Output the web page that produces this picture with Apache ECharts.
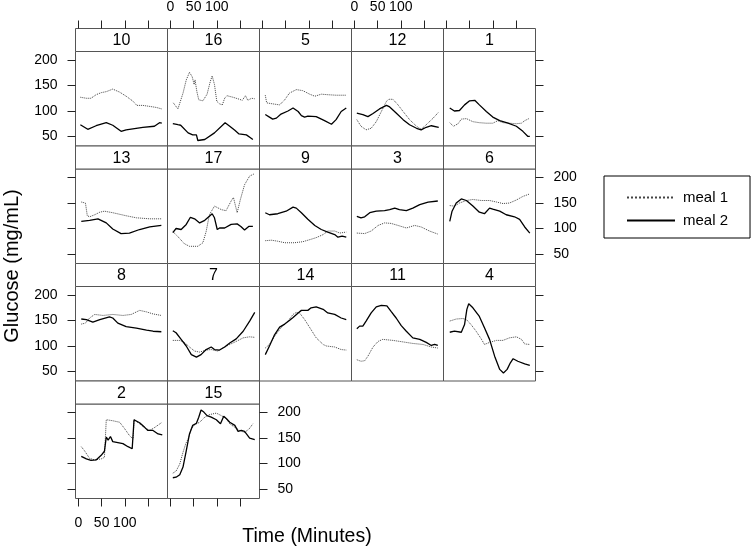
<!DOCTYPE html>
<html>
<head>
<meta charset="utf-8">
<script src="https://cdn.jsdelivr.net/npm/echarts@6/dist/echarts.min.js"></script>
<style>
  html, body { margin: 0; padding: 0; background: #fff; }
  #chart { width: 751px; height: 550px; }
</style>
</head>
<body>
<div id="chart"></div>
<script>
/* ---------------- DATA ---------------- */

// panel order, left-to-right, top-to-bottom
const PANEL_IDS = ["10", "16", "5", "12", "1", "13", "17", "9", "3", "6", "8", "7", "14", "11", "4", "2", "15"];

const TIME_TICKS = [0, 50, 100, 150];
const TIME_LABELS = [0, 50, 100];
const GLUCOSE_TICKS = [50, 100, 150, 200];

// [minutes, glucose]
const m1_10 = [[4,127],[17,125],[27,125],[38,132],[49,136],[60,138],[74,143],[89,137],[103,129],[118,119],[126,111],[139,111],[154,109],[168,107],[180,104]];
const m2_10 = [[4,73],[20,64],[38,71],[60,77],[74,72],[92,60],[103,63],[139,68],[164,70],[175,77],[180,76]];

const m1_16 = [[6,116],[16,104],[27,135],[34,161],[41,176],[47,167],[51,152],[53,161],[57,138],[61,122],[70,120],[79,133],[86,158],[90,169],[95,152],[100,119],[106,114],[112,112],[117,125],[122,130],[135,127],[149,123],[155,121],[162,130],[167,121],[175,125],[182,124]];
const m2_16 = [[5,75],[16,73],[22,72],[38,57],[48,53],[56,53],[59,42],[74,44],[95,57],[118,77],[128,70],[139,62],[148,55],[156,54],[164,53],[172,48],[178,44]];

const m1_5 = [[6,131],[9,116],[22,114],[37,112],[48,122],[58,135],[73,142],[87,140],[102,133],[113,129],[127,133],[141,132],[159,131],[181,131]];
const m2_5 = [[6,93],[15,88],[22,84],[30,86],[40,94],[55,100],[66,106],[77,99],[84,91],[91,88],[98,90],[116,89],[134,81],[149,74],[159,83],[170,99],[181,106]];

const m1_12 = [[5,83],[14,70],[25,63],[36,66],[47,79],[58,99],[69,119],[74,123],[83,123],[94,112],[105,99],[119,83],[134,70],[144,64],[155,73],[170,86],[182,98]];
const m2_12 = [[5,96],[18,93],[29,89],[40,95],[54,104],[69,111],[76,108],[90,96],[105,83],[119,73],[134,66],[144,63],[155,68],[166,71],[182,68]];

const m1_1 = [[7,77],[15,70],[25,75],[32,84],[43,85],[57,79],[71,77],[86,76],[100,76],[111,81],[122,77],[136,76],[151,75],[162,76],[169,81],[178,85]];
const m2_1 = [[7,106],[17,100],[28,101],[39,112],[50,120],[61,121],[71,112],[86,99],[100,88],[115,81],[133,76],[151,70],[165,60],[176,50],[180,50]];

const m1_13 = [[6,152],[15,150],[19,125],[24,123],[35,127],[46,132],[56,134],[74,131],[103,125],[125,121],[154,119],[179,119]];
const m2_13 = [[6,114],[24,116],[42,119],[60,111],[74,99],[92,90],[110,91],[132,98],[154,103],[179,106]];

const m1_17 = [[5,94],[15,85],[30,70],[41,65],[59,65],[70,72],[77,94],[84,127],[95,144],[110,137],[120,135],[131,154],[136,161],[144,131],[151,157],[160,186],[171,203],[180,207]];
const m2_17 = [[5,92],[12,100],[23,98],[34,108],[43,122],[52,119],[63,111],[74,116],[84,124],[90,129],[95,121],[101,98],[106,101],[117,101],[131,108],[144,109],[152,104],[160,97],[169,104],[178,104]];

const m1_9 = [[6,76],[19,77],[33,75],[48,72],[69,72],[87,74],[102,78],[116,82],[131,88],[141,95],[156,95],[167,91],[181,93]];
const m2_9 = [[6,131],[15,127],[33,129],[51,134],[66,142],[73,140],[84,131],[98,118],[113,106],[127,98],[141,93],[156,88],[163,83],[172,85],[181,83]];

const m1_3 = [[5,91],[22,90],[36,95],[51,106],[65,111],[79,110],[94,106],[112,101],[130,106],[144,103],[162,95],[180,89]];
const m2_3 = [[5,124],[14,121],[22,123],[33,131],[47,134],[65,135],[76,137],[87,140],[97,137],[112,135],[126,140],[141,147],[159,152],[180,154]];

const m1_6 = [[7,145],[17,144],[28,150],[43,155],[57,157],[75,155],[93,155],[108,152],[122,149],[136,150],[151,156],[165,163],[180,168]];
const m2_6 = [[7,114],[12,134],[21,150],[32,158],[43,155],[57,144],[71,132],[82,129],[93,140],[100,138],[115,134],[129,127],[147,123],[158,118],[169,103],[180,91]];

const m1_8 = [[6,143],[15,145],[24,155],[35,162],[53,160],[74,162],[96,160],[114,162],[132,170],[147,167],[161,163],[179,160]];
const m2_8 = [[6,153],[17,152],[31,147],[46,152],[67,157],[74,155],[85,145],[103,138],[125,135],[147,131],[161,129],[179,128]];

const m1_7 = [[5,111],[20,111],[30,107],[41,98],[52,90],[63,88],[77,92],[88,93],[102,90],[113,96],[128,103],[142,109],[157,116],[171,118],[182,117]];
const m2_7 = [[5,130],[12,126],[23,113],[34,100],[45,83],[56,78],[66,83],[77,93],[88,98],[95,93],[106,92],[117,98],[128,106],[142,114],[157,129],[171,149],[182,166]];

const m1_14 = [[6,96],[15,103],[26,119],[40,136],[55,149],[66,162],[73,166],[80,165],[91,152],[105,132],[116,116],[131,103],[138,100],[156,98],[170,93],[181,92]];
const m2_14 = [[6,83],[15,100],[26,122],[37,137],[48,143],[58,150],[66,156],[77,165],[84,170],[98,170],[105,175],[116,177],[131,172],[141,165],[156,162],[170,155],[181,152]];

const m1_11 = [[5,73],[14,70],[22,71],[29,80],[40,98],[51,109],[61,113],[83,111],[105,108],[126,105],[148,103],[166,98],[180,96]];
const m2_11 = [[5,134],[11,139],[18,139],[25,149],[36,165],[47,177],[58,180],[70,179],[79,168],[90,155],[101,140],[112,129],[126,116],[141,113],[155,107],[166,101],[173,103],[180,101]];

const m1_4 = [[7,149],[21,153],[35,154],[43,152],[53,142],[64,129],[75,114],[82,103],[93,107],[108,111],[122,111],[136,116],[151,118],[162,113],[169,104],[180,103]];
const m2_4 = [[7,127],[17,129],[32,127],[39,142],[44,172],[48,183],[57,175],[71,158],[82,136],[93,113],[104,80],[115,54],[123,47],[131,54],[138,67],[144,75],[154,70],[169,65],[180,62]];

const m1_2 = [[6,133],[13,125],[24,110],[35,107],[49,109],[56,112],[60,186],[74,184],[89,181],[100,168],[110,155],[118,148],[120,186],[132,178],[143,170],[154,165],[165,171],[179,180]];
const m2_2 = [[6,114],[17,109],[27,106],[38,107],[49,116],[56,124],[60,152],[64,146],[69,153],[74,143],[85,141],[96,139],[107,133],[116,129],[120,186],[132,180],[143,171],[150,165],[161,165],[172,158],[181,156]];

const m1_15 = [[5,81],[12,85],[20,99],[27,122],[33,139],[38,148],[45,168],[52,176],[63,181],[74,191],[84,196],[99,199],[110,194],[121,188],[128,178],[139,171],[149,165],[160,161],[170,168],[178,178]];
const m2_15 = [[5,72],[12,73],[20,78],[27,93],[34,125],[41,158],[48,175],[56,179],[61,191],[66,205],[72,201],[79,194],[88,191],[99,186],[108,178],[115,193],[121,188],[128,181],[139,175],[146,163],[153,165],[160,163],[171,150],[182,147]];

const MEAL1 = [m1_10, m1_16, m1_5, m1_12, m1_1, m1_13, m1_17, m1_9, m1_3, m1_6, m1_8, m1_7, m1_14, m1_11, m1_4, m1_2, m1_15];
const MEAL2 = [m2_10, m2_16, m2_5, m2_12, m2_1, m2_13, m2_17, m2_9, m2_3, m2_6, m2_8, m2_7, m2_14, m2_11, m2_4, m2_2, m2_15];

/* ---------------- LAYOUT ---------------- */

const FONT = "Liberation Sans, Arial, Helvetica, sans-serif";
const COL_LEFT = 75.5;
const COL_W = 92;
const ROW_TOP = [51.5, 169, 286.5, 404];
const PANEL_H = 94.5;
const STRIP_H = 23;
const BORDER = "#555";
const TICK = "#222";

const X_MIN = -6.5, X_MAX = 192.3;
const Y_MIN = 31.2, Y_MAX = 216.9;

const grids = [], xAxes = [], yAxes = [], series = [], graphics = [];

PANEL_IDS.forEach((id, i) => {
    const r = Math.floor(i / 5);
    const c = i % 5;
    const left = COL_LEFT + c * COL_W;
    const top = ROW_TOP[r];

    grids.push({
        left, top, width: COL_W, height: PANEL_H,
        show: true, borderColor: BORDER, borderWidth: 1,
        backgroundColor: "transparent",
    });

    // strip
    graphics.push({
        type: "rect",
        shape: { x: left, y: top - STRIP_H, width: COL_W, height: STRIP_H },
        style: { fill: "#fff", stroke: BORDER, lineWidth: 1 },
    });
    graphics.push({
        type: "text",
        x: left + COL_W / 2, y: top - STRIP_H / 2 + 1,
        style: { text: id, font: "16px " + FONT, fill: "#000", align: "center", verticalAlign: "middle" },
    });

    const xTop = r === 0;
    const xBottom = r === 3;
    const xLabel = (xTop && (c === 1 || c === 3)) || (xBottom && c === 0);
    xAxes.push({
        gridIndex: i, type: "value", min: X_MIN, max: X_MAX,
        position: xTop ? "top" : "bottom",
        offset: xTop ? STRIP_H : 0,
        show: xTop || xBottom,
        axisLine: { show: false, onZero: false },
        splitLine: { show: false },
        axisTick: { show: true, length: 8, customValues: TIME_TICKS, lineStyle: { color: TICK } },
        axisLabel: { show: xLabel, customValues: TIME_LABELS, margin: xTop ? 14 : 18, fontSize: 14, fontFamily: FONT, color: "#000" },
    });

    const yLeft = c === 0;
    const yRight = c === 4 || (r === 3 && c === 1);
    const yLabel = yLeft ? r % 2 === 0 : r % 2 === 1;
    yAxes.push({
        gridIndex: i, type: "value", min: Y_MIN, max: Y_MAX,
        position: yLeft ? "left" : "right",
        show: yLeft || yRight,
        axisLine: { show: false, onZero: false },
        splitLine: { show: false },
        axisTick: { show: true, length: 8, customValues: GLUCOSE_TICKS, lineStyle: { color: TICK } },
        axisLabel: { show: yLabel, customValues: GLUCOSE_TICKS, margin: 18, fontSize: 14, fontFamily: FONT, color: "#000" },
    });

    series.push({
        name: "meal 1", type: "line", xAxisIndex: i, yAxisIndex: i,
        data: MEAL1[i], symbol: "none", silent: true,
        lineStyle: { color: "#444", width: 1, type: "dotted" },
        itemStyle: { color: "#444" },
    });
    series.push({
        name: "meal 2", type: "line", xAxisIndex: i, yAxisIndex: i,
        data: MEAL2[i], symbol: "none", silent: true,
        lineStyle: { color: "#000", width: 1.3 },
        itemStyle: { color: "#000" },
    });
});

// axis titles
graphics.push({
    type: "text", x: 12, y: 266, rotation: Math.PI / 2,
    style: { text: "Glucose (mg/mL)", font: "20px " + FONT, fill: "#000", align: "center", verticalAlign: "middle" },
});
graphics.push({
    type: "text", x: 307, y: 537,
    style: { text: "Time (Minutes)", font: "19.5px " + FONT, fill: "#000", align: "center", verticalAlign: "middle" },
});

const chart = echarts.init(document.getElementById("chart"), null, { renderer: "canvas" });
chart.setOption({
    animation: false,
    backgroundColor: "#fff",
    grid: grids,
    xAxis: xAxes,
    yAxis: yAxes,
    legend: {
        data: ["meal 1", "meal 2"],
        orient: "vertical",
        left: 604, top: 176,
        padding: [14, 22, 10, 22],
        borderColor: "#000", borderWidth: 1,
        itemWidth: 48, itemHeight: 14, itemGap: 8,
        selectedMode: false,
        itemStyle: { opacity: 0 },
        textStyle: { fontSize: 15, fontFamily: FONT, color: "#000", padding: [0, 0, 0, 3] },
    },
    graphic: graphics,
    series,
});
</script>
</body>
</html>
